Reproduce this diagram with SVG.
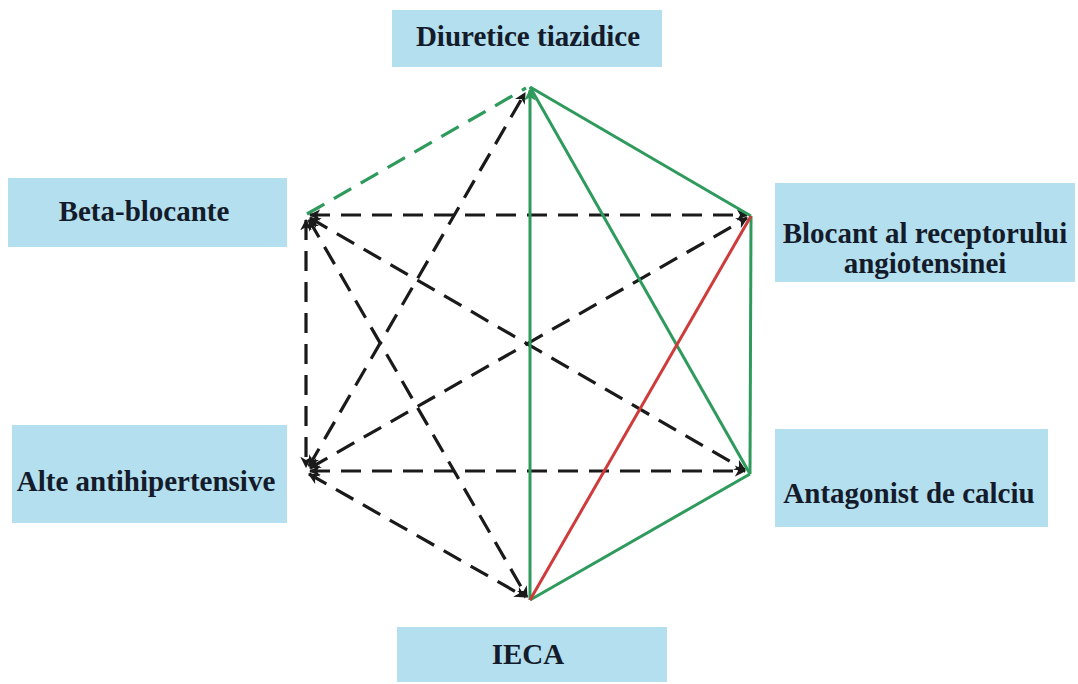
<svg xmlns="http://www.w3.org/2000/svg" width="1078" height="684" viewBox="0 0 1078 684">
<style>
.box{fill:#b3dfee}
.lbl{font-family:"Liberation Serif","Times New Roman",serif;font-weight:bold;font-size:29px;fill:#141b2b;text-anchor:middle}
.dash{stroke:#1a1a1a;stroke-width:3.2;stroke-dasharray:20 11;fill:none;marker-start:url(#ab);marker-end:url(#ab)}
.gdash{stroke:#2e9a5c;stroke-width:3.2;stroke-dasharray:20 11;fill:none}
.g{stroke:#2e9a5c;stroke-width:3;fill:none}
.r{stroke:#cf3b3b;stroke-width:3;fill:none}
</style>
<defs>
<marker id="ab" viewBox="0 0 10 10" refX="9" refY="5" markerWidth="3.6" markerHeight="3.6" orient="auto-start-reverse" markerUnits="strokeWidth">
<path d="M0,0 L10,5 L0,10 L3,5 Z" fill="#1a1a1a"/>
</marker>
<marker id="ag" viewBox="0 0 10 10" refX="9" refY="5" markerWidth="4" markerHeight="4" orient="auto" markerUnits="strokeWidth">
<path d="M0,0 L10,5 L0,10 L3,5 Z" fill="#2e9a5c"/>
</marker>
</defs>
<rect width="1078" height="684" fill="#ffffff"/>
<g id="connectors">
<line class="gdash" x1="307" y1="214" x2="526" y2="88"/>
<line class="dash" x1="310" y1="215" x2="747" y2="215"/>
<line class="dash" x1="310" y1="471" x2="745" y2="471"/>
<line class="dash" x1="306" y1="220" x2="306" y2="467"/>
<line class="dash" x1="310" y1="218" x2="745" y2="470"/>
<line class="dash" x1="310" y1="468" x2="747" y2="218"/>
<line class="dash" x1="309" y1="220" x2="527" y2="597"/>
<line class="dash" x1="309" y1="474" x2="525" y2="597"/>
<line class="dash" x1="309" y1="466" x2="525" y2="93"/>
<line class="g" x1="530" y1="600" x2="530" y2="90" marker-end="url(#ag)"/>
<line class="g" x1="530" y1="87" x2="751" y2="216"/>
<line class="g" x1="530" y1="87" x2="750" y2="474"/>
<line class="g" x1="751" y1="216" x2="750" y2="474"/>
<line class="g" x1="750" y1="474" x2="530" y2="600"/>
<line class="r" x1="751" y1="216" x2="530" y2="600"/>
</g>
<g id="node-diuretice">
<rect class="box" x="392" y="10" width="270" height="57"/>
<text class="lbl" x="528" y="46">Diuretice tiazidice</text>
</g>
<g id="node-beta">
<rect class="box" x="8" y="178" width="279" height="69"/>
<text class="lbl" x="144" y="221">Beta-blocante</text>
</g>
<g id="node-blocant">
<rect class="box" x="775" y="183" width="300" height="99"/>
<text class="lbl" x="925" y="243">Blocant al receptorului</text>
<text class="lbl" x="925" y="273">angiotensinei</text>
</g>
<g id="node-alte">
<rect class="box" x="12" y="425" width="275" height="98"/>
<text class="lbl" x="146" y="491">Alte antihipertensive</text>
</g>
<g id="node-antagonist">
<rect class="box" x="775" y="429" width="273" height="98"/>
<text class="lbl" x="909" y="503">Antagonist de calciu</text>
</g>
<g id="node-ieca">
<rect class="box" x="397" y="627" width="270" height="55"/>
<text class="lbl" x="528" y="664">IECA</text>
</g>
</svg>
